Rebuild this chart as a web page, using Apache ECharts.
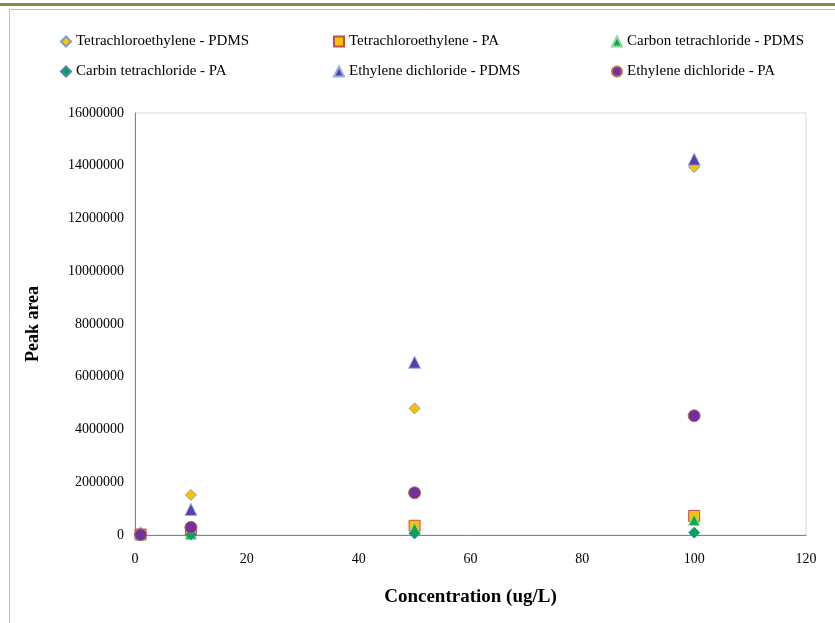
<!DOCTYPE html>
<html>
<head>
<meta charset="utf-8">
<script src="https://cdn.jsdelivr.net/npm/echarts@6/dist/echarts.min.js"></script>
<style>html,body{margin:0;padding:0;background:#fff;}#c{width:835px;height:623px;}</style>
</head>
<body>
<div id="c"></div>
<script>
var concentrations = [1, 10, 50, 100];
var seriesNames = [
  'Tetrachloroethylene - PDMS',
  'Tetrachloroethylene - PA',
  'Carbon tetrachloride - PDMS',
  'Carbin tetrachloride - PA',
  'Ethylene dichloride - PDMS',
  'Ethylene dichloride - PA'
];
var tetraPDMS = [20000, 1520000, 4800000, 13950000];
var tetraPA = [20000, 170000, 350000, 720000];
var carbonPDMS = [10000, 50000, 250000, 570000];
var carbinPA = [5000, 20000, 60000, 90000];
var ethylPDMS = [90000, 970000, 6550000, 14250000];
var ethylPA = [10000, 290000, 1600000, 4520000];
var yTicks = [0, 2000000, 4000000, 6000000, 8000000, 10000000, 12000000, 14000000, 16000000];
var xTicks = [0, 20, 40, 60, 80, 100, 120];

var allValues = [tetraPDMS, tetraPA, carbonPDMS, carbinPA, ethylPDMS, ethylPA];
var symbols = ['diamond', 'rect', 'triangle', 'diamond', 'triangle', 'circle'];
var sizes = [11, 11, 11, 11, 12, 12];
var fills = ['#FFC000', '#FFC000', '#00B050', '#00A650', '#5B3FA8', '#7030A0'];
var borders = ['#7F9FBF', '#C0504D', '#9BD49B', '#4F81BD', '#8DB4E2', '#C0704D'];

function pairs(vals) {
  return concentrations.map(function (c, i) { return [c, vals[i]]; });
}

var series = seriesNames.map(function (n, i) {
  return {
    name: n,
    type: 'scatter',
    symbol: symbols[i],
    symbolSize: sizes[i],
    data: pairs(allValues[i]),
    itemStyle: { color: fills[i], borderColor: borders[i], borderWidth: 1, opacity: 1 },
    emphasis: { disabled: true }
  };
});

var legendPos = [[60, 34], [333, 34], [611, 34], [60, 64], [333, 64], [611, 64]];
var legends = seriesNames.map(function (n, i) {
  return {
    data: [n],
    left: legendPos[i][0],
    top: legendPos[i][1],
    padding: 0,
    itemWidth: 10,
    itemHeight: 10,
    itemGap: 0,
    selectedMode: false,
    textStyle: { fontFamily: 'Liberation Serif', fontSize: 15, color: '#000' }
  };
});

var chart = echarts.init(document.getElementById('c'), null, { renderer: 'canvas' });
chart.setOption({
  animation: false,
  backgroundColor: '#fff',
  graphic: [
    { type: 'rect', shape: { x: 0, y: 3, width: 835, height: 3 }, style: { fill: '#77933C' }, z: 100 },
    { type: 'rect', shape: { x: 9.5, y: 9.5, width: 900, height: 700 }, style: { fill: 'none', stroke: '#BFBFBF', lineWidth: 1 }, z: 100 }
  ],
  legend: legends,
  grid: { left: 135, right: 29, top: 113, bottom: 88, show: true, borderColor: '#D9D9D9', borderWidth: 1 },
  xAxis: {
    type: 'value', min: xTicks[0], max: xTicks[xTicks.length - 1], interval: 20,
    axisLine: { show: true, lineStyle: { color: '#868686', width: 1 } },
    axisTick: { show: false },
    splitLine: { show: false },
    axisLabel: { fontFamily: 'Liberation Serif', fontSize: 14, color: '#000', margin: 17 },
    name: 'Concentration (ug/L)', nameLocation: 'middle', nameGap: 53,
    nameTextStyle: { fontFamily: 'Liberation Serif', fontSize: 19, fontWeight: 'bold', color: '#000' }
  },
  yAxis: {
    type: 'value', min: yTicks[0], max: yTicks[yTicks.length - 1], interval: 2000000,
    axisLine: { show: true, lineStyle: { color: '#868686', width: 1 } },
    axisTick: { show: false },
    splitLine: { show: false },
    axisLabel: { fontFamily: 'Liberation Serif', fontSize: 14, color: '#000', margin: 11,
      formatter: function (v) { return String(v); } },
    name: 'Peak area', nameLocation: 'middle', nameGap: 93, nameRotate: 90,
    nameTextStyle: { fontFamily: 'Liberation Serif', fontSize: 18, fontWeight: 'bold', color: '#000' }
  },
  series: series
});
</script>
</body>
</html>
